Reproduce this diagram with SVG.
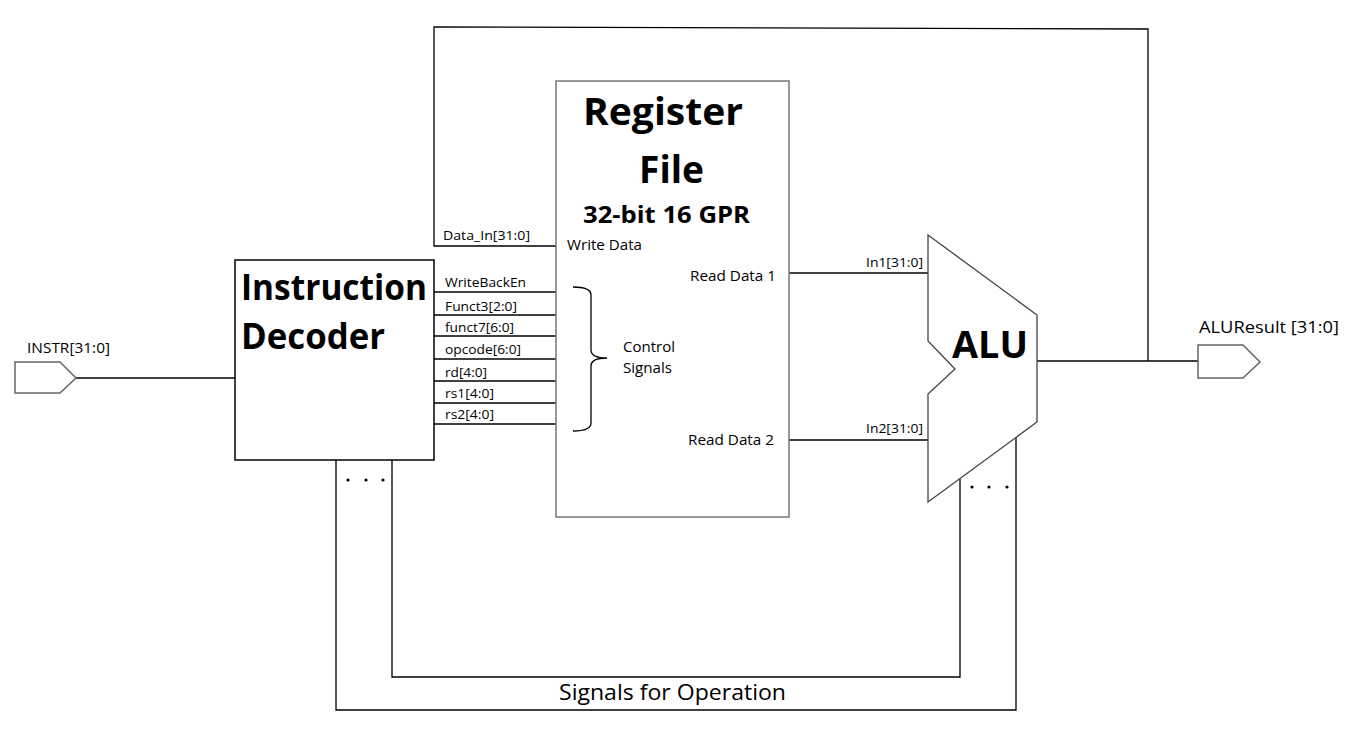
<svg xmlns="http://www.w3.org/2000/svg" width="1357" height="739" viewBox="0 0 1357 739">
<style>
.wire{fill:none;stroke:#000;stroke-width:1.3}
.box{fill:#fff;stroke-width:1.5}
.t{font-family:"Open Sans","Noto Sans",sans-serif;fill:#000}
.s{font-size:13px}
.m{font-size:15px}
.b{font-weight:bold}
</style>
<rect width="1357" height="739" fill="#fff"/>
<g id="connectors">
<polyline class="wire" points="1148,361 1148,29 434,27 434,246 556,246"/>
<line class="wire" x1="434" y1="292" x2="556" y2="292"/>
<line class="wire" x1="434" y1="315" x2="556" y2="315"/>
<line class="wire" x1="434" y1="336" x2="556" y2="336"/>
<line class="wire" x1="434" y1="359" x2="556" y2="359"/>
<line class="wire" x1="434" y1="381" x2="556" y2="381"/>
<line class="wire" x1="434" y1="403" x2="556" y2="403"/>
<line class="wire" x1="434" y1="424" x2="556" y2="424"/>
<line class="wire" x1="76" y1="378" x2="235" y2="378"/>
<line class="wire" x1="789" y1="273" x2="928" y2="273"/>
<line class="wire" x1="789" y1="440" x2="928" y2="440"/>
<line class="wire" x1="1037" y1="361" x2="1198" y2="361"/>
<polyline class="wire" points="392,460 392,677 960,677 960,479"/>
<polyline class="wire" points="336,460 336,710 1016,710 1016,437"/>
</g>
<g id="instr-port">
<polygon points="15,362 60,362 76,378 60,393 15,393" fill="#fff" stroke="#666" stroke-width="1.5"/>
<text class="t m" x="27" y="353" textLength="83" lengthAdjust="spacingAndGlyphs">INSTR[31:0]</text>
</g>
<g id="alu-result-port">
<polygon points="1198,345 1243,345 1260,362 1243,378 1198,378" fill="#fff" stroke="#666" stroke-width="1.5"/>
<text class="t" font-size="17" x="1199" y="333" textLength="140" lengthAdjust="spacingAndGlyphs">ALUResult [31:0]</text>
</g>
<g id="decoder">
<rect class="box" x="235" y="260" width="199" height="200" stroke="#000"/>
<text class="t b" font-size="36" x="241" y="300" textLength="186" lengthAdjust="spacingAndGlyphs">Instruction</text>
<text class="t b" font-size="36" x="241" y="349" textLength="144" lengthAdjust="spacingAndGlyphs">Decoder</text>
<circle cx="348" cy="480" r="1.6"/>
<circle cx="366" cy="480" r="1.6"/>
<circle cx="383" cy="480" r="1.6"/>
</g>
<g id="register-file">
<rect class="box" x="556" y="81" width="233" height="436" stroke="#777"/>
<text class="t b" font-size="38" x="583" y="125" textLength="160" lengthAdjust="spacingAndGlyphs">Register</text>
<text class="t b" font-size="38" x="639" y="183" textLength="65" lengthAdjust="spacingAndGlyphs">File</text>
<text class="t b" font-size="23" x="583" y="223" textLength="167" lengthAdjust="spacingAndGlyphs">32-bit 16 GPR</text>
<text class="t m" x="567" y="250" textLength="75" lengthAdjust="spacingAndGlyphs">Write Data</text>
<text class="t m" x="690" y="281" textLength="86" lengthAdjust="spacingAndGlyphs">Read Data 1</text>
<text class="t m" x="688" y="445" textLength="86" lengthAdjust="spacingAndGlyphs">Read Data 2</text>
<path class="wire" d="M573,287 Q591,287 591,295 L591,350 Q591,358 607,358 Q591,358 591,366 L591,423 Q591,431 573,431"/>
<text class="t m" x="623" y="352" textLength="52" lengthAdjust="spacingAndGlyphs">Control</text>
<text class="t m" x="623" y="373" textLength="49" lengthAdjust="spacingAndGlyphs">Signals</text>
</g>
<g id="signal-labels">
<text class="t s" x="443" y="240" textLength="87" lengthAdjust="spacingAndGlyphs">Data_In[31:0]</text>
<text class="t s" x="445" y="287" textLength="81" lengthAdjust="spacingAndGlyphs">WriteBackEn</text>
<text class="t s" x="445" y="311" textLength="72" lengthAdjust="spacingAndGlyphs">Funct3[2:0]</text>
<text class="t s" x="445" y="332" textLength="69" lengthAdjust="spacingAndGlyphs">funct7[6:0]</text>
<text class="t s" x="445" y="354" textLength="76" lengthAdjust="spacingAndGlyphs">opcode[6:0]</text>
<text class="t s" x="445" y="377" textLength="42" lengthAdjust="spacingAndGlyphs">rd[4:0]</text>
<text class="t s" x="445" y="398" textLength="49" lengthAdjust="spacingAndGlyphs">rs1[4:0]</text>
<text class="t s" x="445" y="419" textLength="49" lengthAdjust="spacingAndGlyphs">rs2[4:0]</text>
<text class="t s" x="866" y="267" textLength="57" lengthAdjust="spacingAndGlyphs">In1[31:0]</text>
<text class="t s" x="866" y="433" textLength="57" lengthAdjust="spacingAndGlyphs">In2[31:0]</text>
<text class="t" font-size="21" x="559" y="700" textLength="227" lengthAdjust="spacingAndGlyphs">Signals for Operation</text>
</g>
<g id="alu">
<polygon points="928,235 1037,315 1037,422 928,502 928,394 955,369 928,341" fill="#fff" stroke="#444" stroke-width="1.3"/>
<text class="t b" font-size="38" x="952" y="358" textLength="76" lengthAdjust="spacingAndGlyphs">ALU</text>
<circle cx="972" cy="487" r="1.6"/>
<circle cx="989" cy="487" r="1.6"/>
<circle cx="1007" cy="487" r="1.6"/>
</g>
</svg>
